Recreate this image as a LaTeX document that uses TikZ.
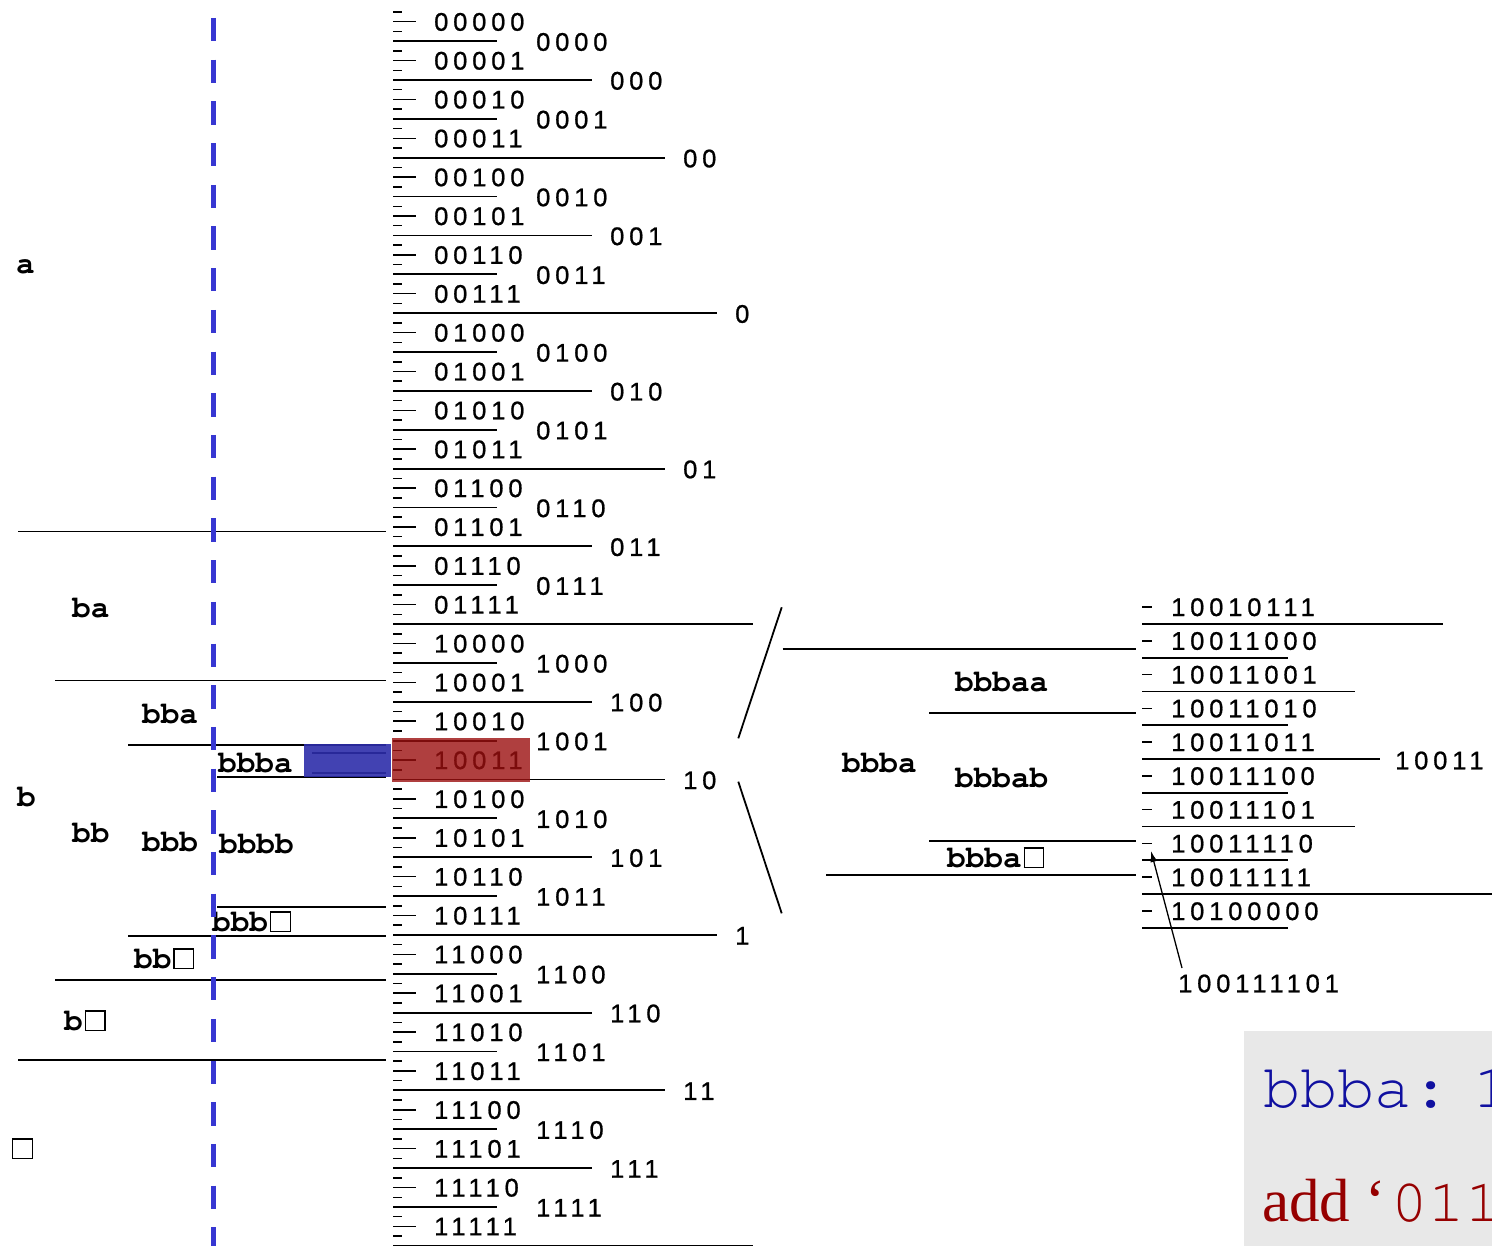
\documentclass[tikz,border=0pt]{standalone}
\usepackage[T1]{fontenc}
\usepackage{fontspec}
\usepackage{xcolor}
\usetikzlibrary{arrows.meta}
\newfontfamily\codefont[LetterSpace=19,FakeBold=0.8]{Liberation Sans}
\newfontfamily\serlab{Liberation Serif}
\newcommand\courb{\fontencoding{T1}\fontfamily{pcr}\fontseries{b}\fontshape{n}\selectfont}
\newcommand\courm{\fontencoding{T1}\fontfamily{pcr}\fontseries{m}\fontshape{n}\selectfont}
\newcommand\sqbox{\kern2pt{\fboxsep=0pt\fboxrule=1.1pt\fbox{\rule{0pt}{18.5pt}\kern18.5pt}}}
\definecolor{dashblue}{RGB}{55,55,210}
\definecolor{rectblue}{RGB}{45,45,170}
\definecolor{rectred}{RGB}{155,15,15}
\definecolor{tblue}{RGB}{16,16,160}
\definecolor{tred}{RGB}{150,0,0}
\definecolor{boxgray}{RGB}{232,232,232}
\begin{document}
\begin{tikzpicture}[x=1pt,y=-1pt,
  ln/.style={line width=1.8pt},
  tk/.style={line width=1.5pt},
  code/.style={inner sep=0pt,anchor=base west,font={\codefont\fontsize{25.5pt}{25.5pt}\selectfont}},
  lab/.style={inner sep=0pt,anchor=base west,font={\courb\fontsize{31pt}{31pt}\selectfont}}]
\useasboundingbox (0,0) rectangle (1492,1246);
\clip (0,0) rectangle (1492,1246);

% ---- left source model ----
\draw[ln] (18,531.5) -- (386,531.5);
\draw[ln] (18,1060) -- (386,1060);
\draw[ln] (55,680.5) -- (386,680.5);
\draw[ln] (55,980) -- (386,980);
\draw[ln] (128,744.7) -- (386,744.7);
\draw[ln] (128,935.7) -- (386,935.7);
\draw[ln] (217,776.7) -- (386,776.7);
\draw[ln] (217,906.7) -- (386,906.7);
\draw[ln] (312,753.3) -- (386,753.3);
\draw[ln] (312,772.7) -- (386,772.7);

\node[lab] (la) at (16,274) {a};
\node[lab] (lb) at (17,806) {b};
\node[lab] (lba) at (72,617) {ba};
\node[lab] (lbb) at (72,842) {bb};
\node[lab] (lbx) at (64,1030) {b\sqbox};
\node[lab] (lbba) at (142,723) {bba};
\node[lab] (lbbb) at (142,851) {bbb};
\node[lab] (lbbx) at (134,968) {bb\sqbox};
\node[lab] (lbbba) at (218,772) {bbba};
\node[lab] (lbbbb) at (219,853) {bbbb};
\node[lab] (lbbbx) at (212,931) {bbb\sqbox};
\node[lab] (lx) at (10,1158) {\sqbox};

\fill[rectblue,fill opacity=0.9] (303.5,743.5) rectangle (390.5,776.5);

% ---- left code column ----
\foreach \j/\c in {0/00000,1/00001,2/00010,3/00011,4/00100,5/00101,6/00110,7/00111,
  8/01000,9/01001,10/01010,11/01011,12/01100,13/01101,14/01110,15/01111,
  16/10000,17/10001,18/10010,19/10011,20/10100,21/10101,22/10110,23/10111,
  24/11000,25/11001,26/11010,27/11011,28/11100,29/11101,30/11110,31/11111}{
  \pgfmathsetmacro\yy{2.3+(\j+0.5)*38.86}
  \node[code] (c\j) at (434,\yy+9.0) {\c};
  \draw[tk] (393,\yy-9.715) -- (402,\yy-9.715);
  \draw[tk] (393,\yy) -- (416,\yy);
  \draw[tk] (393,\yy+9.715) -- (402,\yy+9.715);
}
\foreach \k/\e/\lx/\lab in {1/497/536/0000,2/592/610/000,3/497/536/0001,4/665/683/00,
  5/497/536/0010,6/592/610/001,7/497/536/0011,8/717/735/0,9/497/536/0100,
  10/592/610/010,11/497/536/0101,12/665/683/01,13/497/536/0110,14/592/610/011,
  15/497/536/0111,17/497/536/1000,18/592/610/100,19/497/536/1001,20/665/683/10,
  21/497/536/1010,22/592/610/101,23/497/536/1011,24/717/735/1,25/497/536/1100,
  26/592/610/110,27/497/536/1101,28/665/683/11,29/497/536/1110,30/592/610/111,
  31/497/536/1111}{
  \pgfmathsetmacro\yy{2.3+\k*38.86}
  \draw[ln] (393,\yy) -- (\e,\yy);
  \node[code] (h\k) at (\lx,\yy+9.6) {\lab};
}
\draw[ln] (393,624.1) -- (753,624.1);
\draw[ln] (393,1245.8) -- (753,1245.8);

\fill[rectred,fill opacity=0.8] (391.7,737.5) rectangle (530,781.5);

% ---- dashed divider ----
\draw[dashblue,line width=5pt,dash pattern=on 23.3pt off 18.4pt] (213.5,18) -- (213.5,1260);

% ---- zoom bracket ----
\draw[ln] (781.7,607.3) -- (738.3,738.3);
\draw[ln] (738.3,781.7) -- (781.7,913.3);

% ---- right model ----
\draw[ln] (782.5,649.3) -- (1136,649.3);
\draw[ln] (929,713) -- (1136,713);
\draw[ln] (929,841) -- (1136,841);
\draw[ln] (826,875) -- (1136,875);
\node[lab] (rbbba) at (842,772) {bbba};
\node[lab] (rbbbaa) at (955,691) {bbbaa};
\node[lab] (rbbbab) at (955,787) {bbbab};
\node[lab] (rbbbax) at (947,867) {bbba\sqbox};

% ---- right code column ----
\foreach \i/\c/\e in {0/10010111/1443,1/10011000/1288,2/10011001/1355,3/10011010/1288,
  4/10011011/1380,5/10011100/1288,6/10011101/1355,7/10011110/1288,8/10011111/1500,
  9/10100000/1288}{
  \pgfmathsetmacro\yy{607+\i*33.78}
  \draw[tk] (1142,\yy) -- (1152,\yy);
  \node[code] (r\i) at (1171,\yy+9.0) {\c};
  \draw[ln] (1142,\yy+16.9) -- (\e,\yy+16.9);
}
\node[code] (r10011) at (1395,769.3) {10011};
\node[code] (rval) at (1178,992.3) {100111101};
\coordinate (atail) at (1182,968);
\coordinate (atip) at (1151,851);
\draw[line width=1.3pt,-{Latex[length=11pt,width=7pt]}] (atail) -- (atip);

% ---- bottom-right box ----
\fill[boxgray] (1244,1031) rectangle (1500,1260);
\node[inner sep=0pt,anchor=base west,text=tblue,font={\courm\fontsize{62pt}{62pt}\selectfont}] (s1) at (1263,1107) {bbba:\makebox[0pt][l]{\kern24pt 1}};
\node[inner sep=0pt,anchor=base west,text=tred,font={\fontsize{61pt}{61pt}\selectfont}] (s2) at (1262,1221) {\serlab add ‘\kern6pt\courm 011};
\end{tikzpicture}
\end{document}
